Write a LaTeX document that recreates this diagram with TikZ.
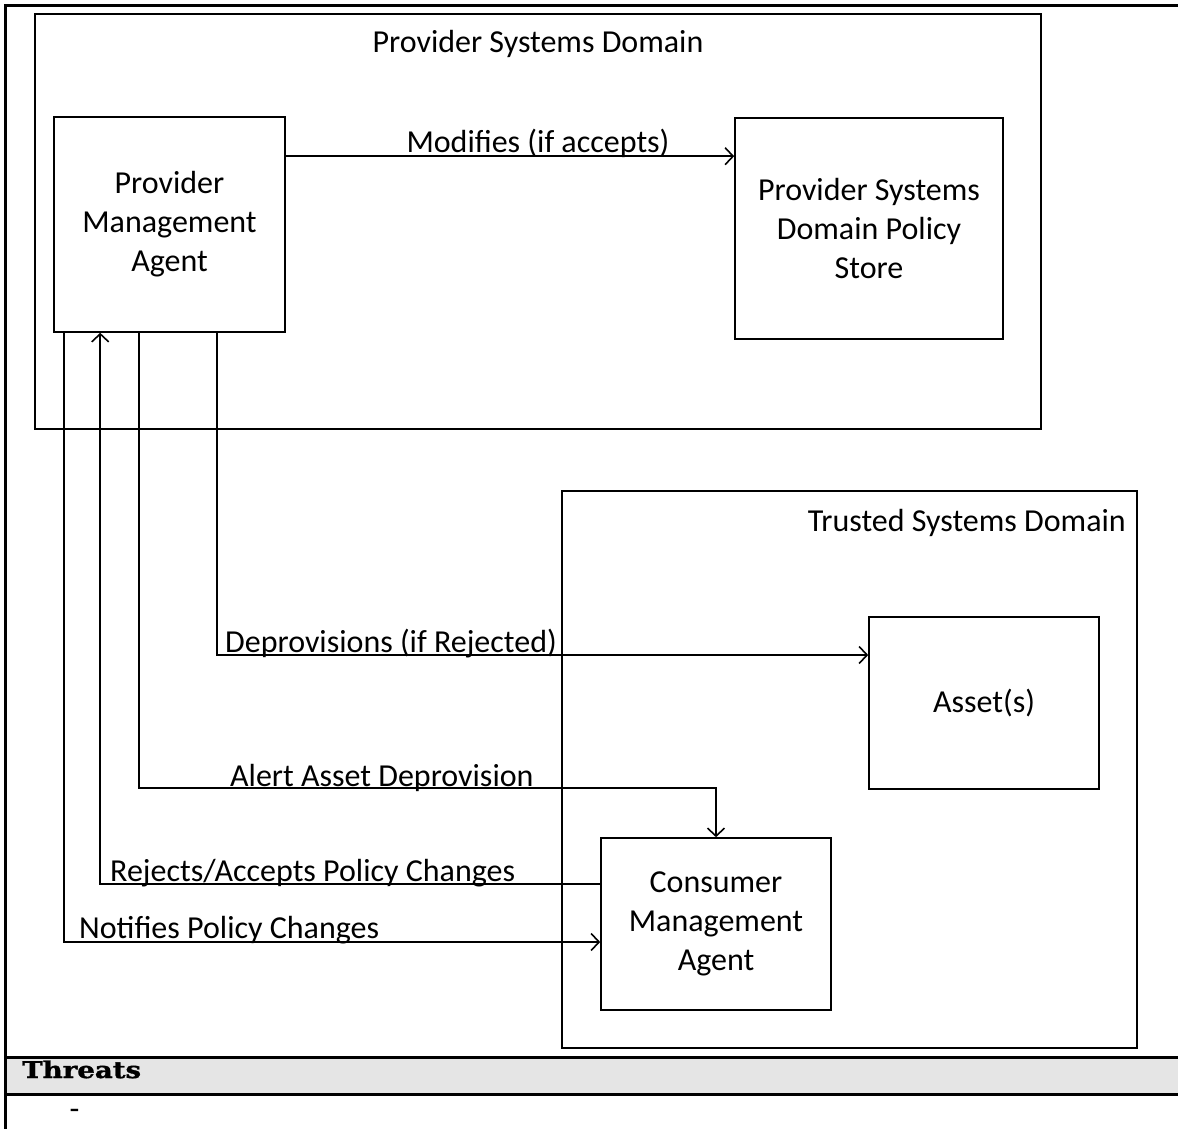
\documentclass[tikz,border=0pt]{standalone}
\usepackage{fontspec}
\setmainfont{Carlito}
\newfontfamily\threatfont[FakeStretch=1.2,FakeBold=1.5]{DejaVu Serif}
\usetikzlibrary{positioning,arrows.meta}

\begin{document}
\begin{tikzpicture}[
  x=1pt, y=-1pt,
  domainbox/.style={
    rectangle,
    draw,
    line width=1.6pt,
    inner sep=0pt
  },
  agentbox/.style={
    rectangle,
    draw,
    line width=1.6pt,
    align=center,
    inner sep=0pt,
    font=\fontsize{32}{39}\selectfont
  },
  arrow/.style={
    -{Straight Barb[length=8pt,width=17pt]},
    line width=1.6pt
  },
  flowlbl/.style={
    inner sep=0pt,
    anchor=base west,
    font=\fontsize{32}{39}\selectfont
  },
  frame/.style={
    line width=3pt
  },
  threatlbl/.style={
    inner sep=0pt,
    anchor=base west,
    font=\threatfont\bfseries\fontsize{23}{26}\selectfont
  }
]
\useasboundingbox (0,0) rectangle (1178,1129);

% Page frame and threats row
\fill[black!10] (5,1057) rectangle (1178,1094);
\draw[frame] (5,1129) -- (5,6) -- (1178,6);
\draw[frame] (5,1057) -- (1178,1057);
\draw[frame] (5,1094) -- (1178,1094);
\node[threatlbl] (threats) at (22,1078) {Threats};
\node[flowlbl, anchor=center] (dash) at (74.5,1114) {-};

% Domains
\node[domainbox, minimum width=1006pt, minimum height=415pt] (provdom) at (538,221.5) {};
\node[domainbox, minimum width=575pt, minimum height=557pt] (trustdom) at (849.5,769.5) {};
\node[flowlbl, anchor=base] (provtitle) at (538,53) {Provider Systems Domain};
\node[flowlbl, anchor=base east] (trusttitle) at (1126,531) {Trusted Systems Domain};

% Boxes
\node[agentbox, minimum width=231pt, minimum height=215pt] (pma) at (169.5,224.5) {Provider\\Management\\Agent};
\node[agentbox, minimum width=268pt, minimum height=221pt] (store) at (869,228.5) {Provider Systems\\Domain Policy\\Store};
\node[agentbox, minimum width=230pt, minimum height=172pt] (asset) at (984,703) {Asset(s)};
\node[agentbox, minimum width=230pt, minimum height=172pt] (cma) at (716,924) {Consumer\\Management\\Agent};

% Start points under the provider agent
\coordinate (notifyout) at ([xshift=11pt]pma.south west);
\coordinate (replyin) at ([xshift=47pt]pma.south west);
\coordinate (alertout) at ([xshift=86pt]pma.south west);
\coordinate (deprovout) at ([xshift=164pt]pma.south west);

% Connectors
\draw[arrow] ([yshift=-40pt]pma.north east) -- ([yshift=-40pt]pma.north east -| store.west);
\draw[arrow] (deprovout) |- ([yshift=48pt]asset.west);
\draw[arrow] (alertout) |- ([yshift=49pt]cma.north) -- (cma.north);
\draw[arrow] ([yshift=40pt]cma.west) -| (replyin);
\draw[arrow] (notifyout) |- ([yshift=-18pt]cma.west);

% Connector labels
\node[flowlbl, anchor=base] (modlbl) at (538,153) {Modifies (if accepts)};
\node[flowlbl] (deprovlbl) at (225,652) {Deprovisions (if Rejected)};
\node[flowlbl] (alertlbl) at (230,786) {Alert Asset Deprovision};
\node[flowlbl] (replylbl) at (110,881) {Rejects/Accepts Policy Changes};
\node[flowlbl] (notifylbl) at (79,938) {Notifies Policy Changes};

\end{tikzpicture}
\end{document}
